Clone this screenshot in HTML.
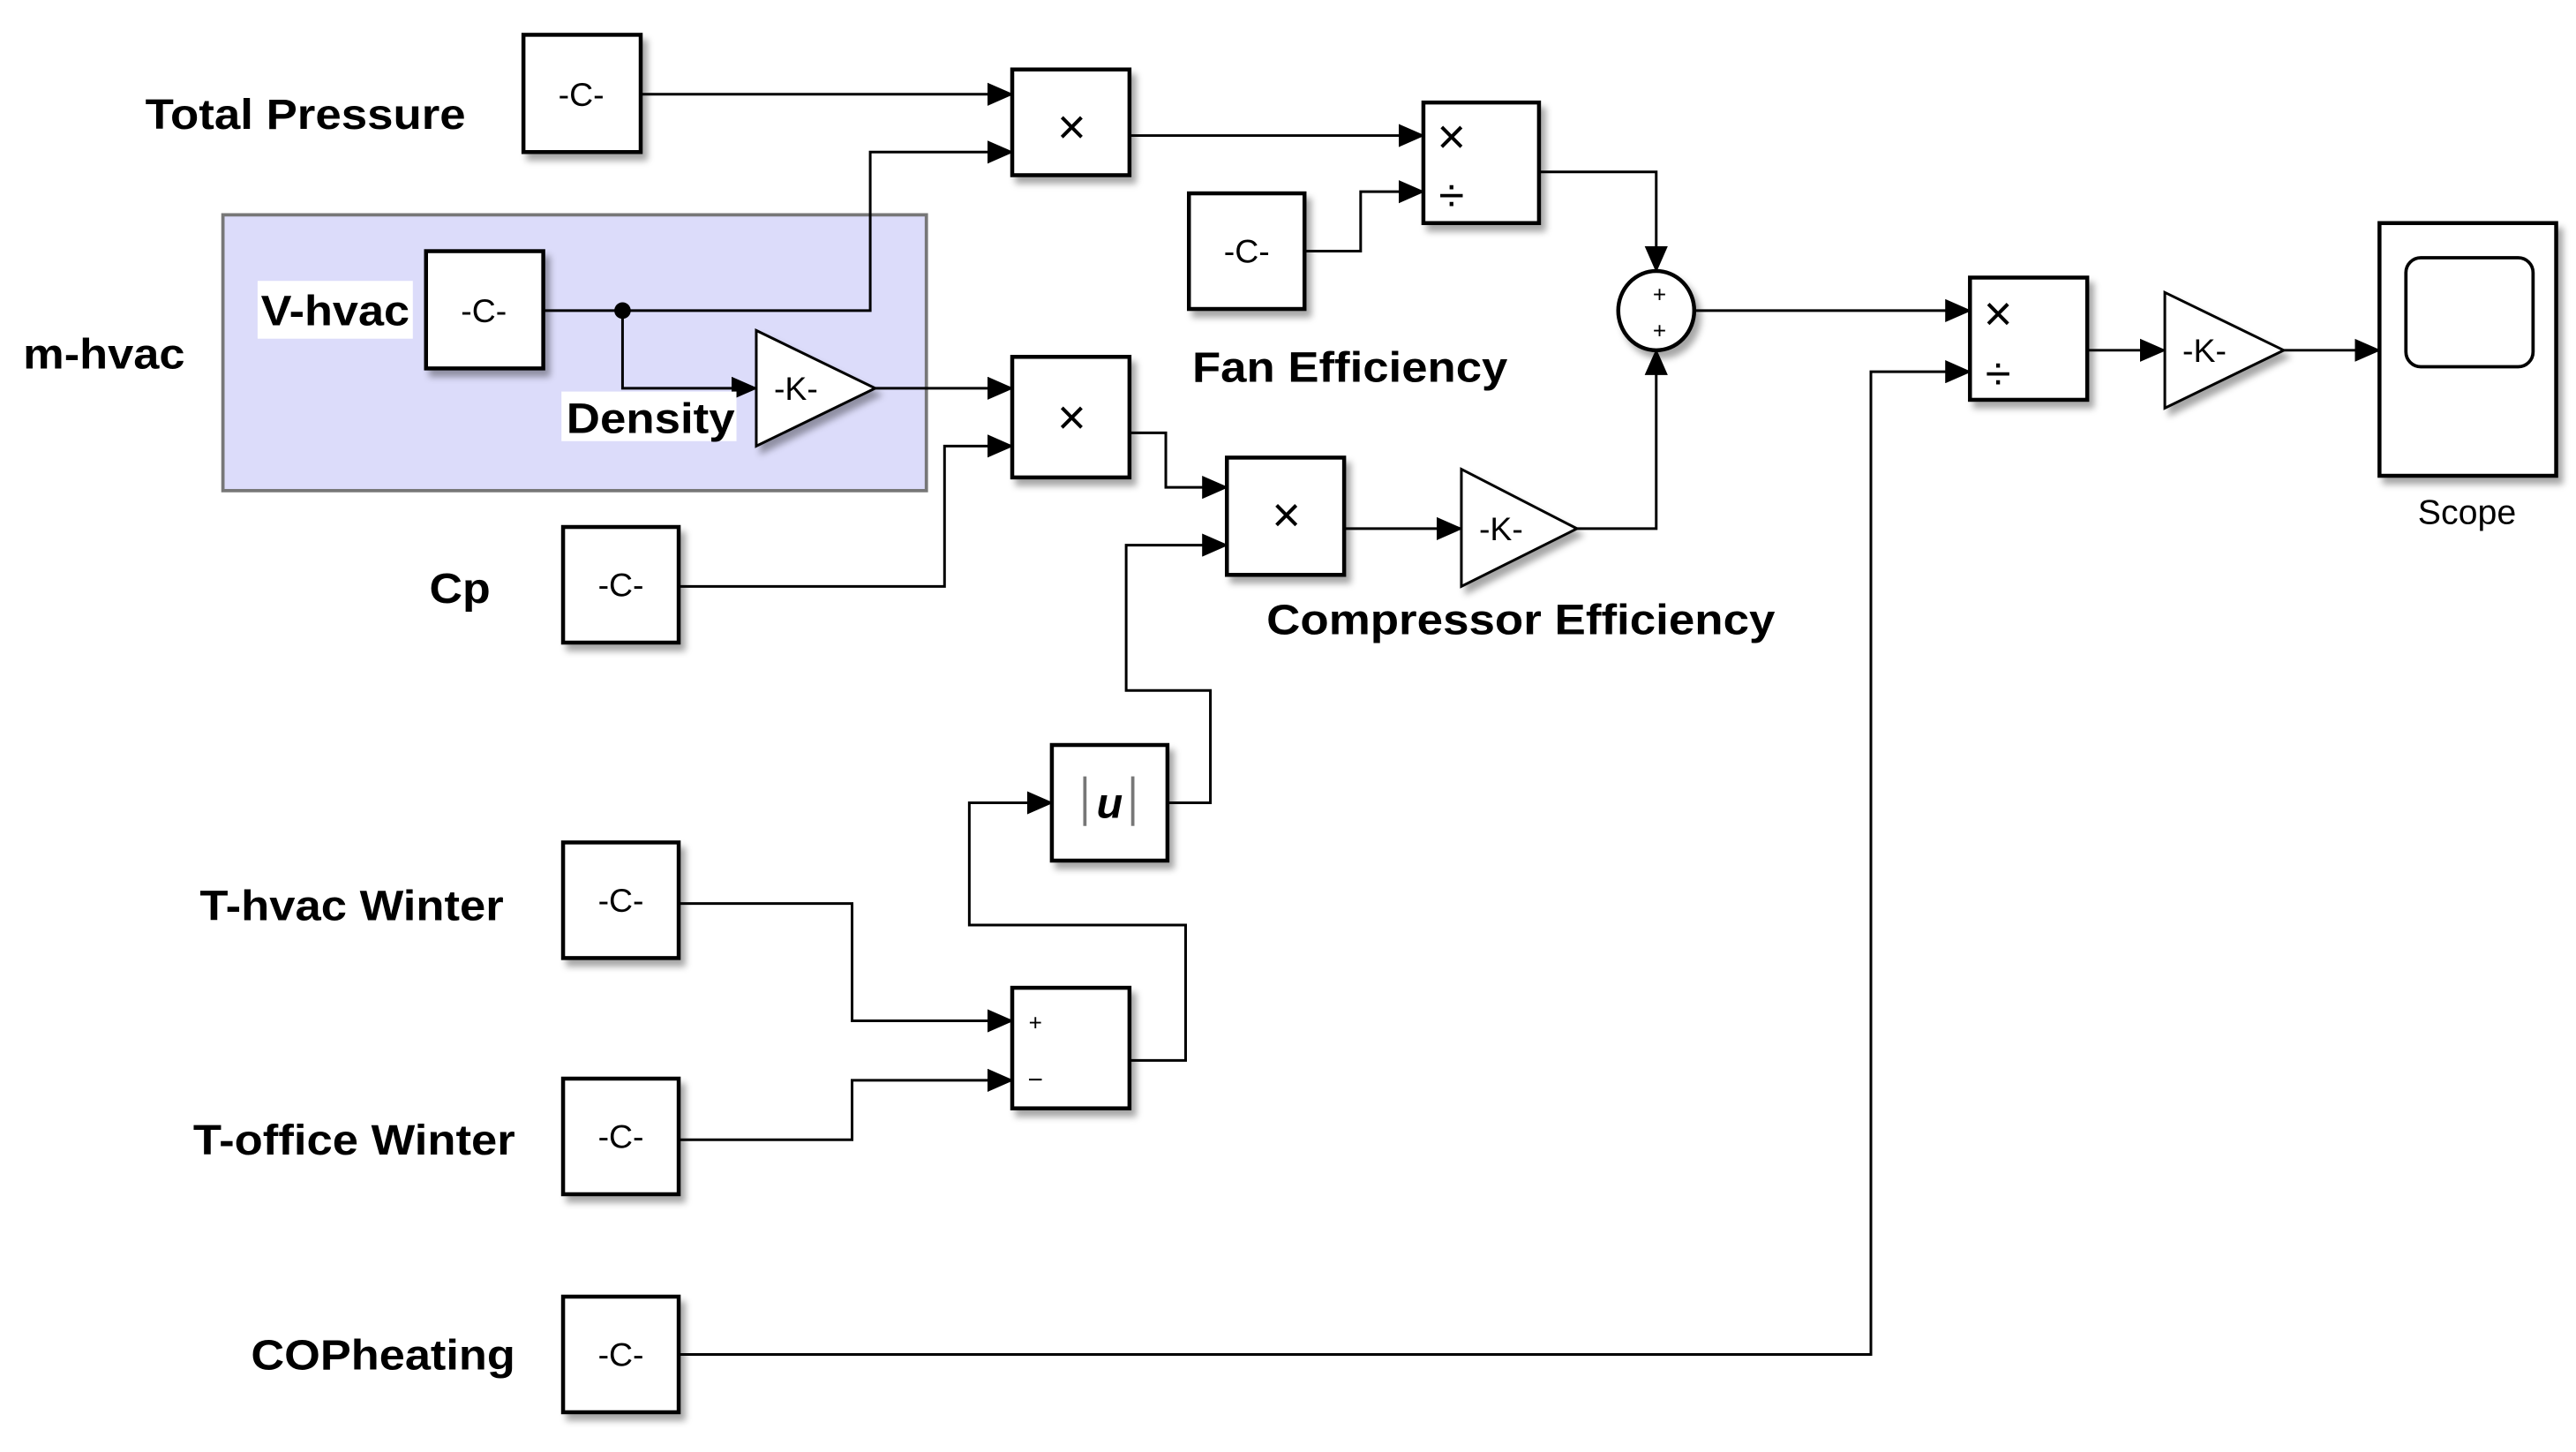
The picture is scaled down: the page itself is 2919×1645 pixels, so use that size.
<!DOCTYPE html>
<html><head><meta charset="utf-8"><style>
html,body{margin:0;padding:0;background:#fff;}
svg{display:block;}
text{font-family:"Liberation Sans",Arial,sans-serif;}
.lb{font-weight:bold;font-size:26px;fill:#000;}
.bt{font-size:20px;fill:#000;}
</style></head><body>
<svg width="2919" height="1645" viewBox="0 0 1560 879" xmlns="http://www.w3.org/2000/svg">
<defs>
<filter id="sh" x="-20%" y="-20%" width="150%" height="150%">
<feDropShadow dx="3" dy="4" stdDeviation="2" flood-color="#000" flood-opacity="0.35"/>
</filter>
<marker id="ar" markerUnits="userSpaceOnUse" markerWidth="16" markerHeight="14" refX="15" refY="7" orient="auto">
<path d="M0,0 L16,7 L0,14 Z" fill="#000"/>
</marker>
</defs>

<rect x="135" y="130" width="426" height="167" fill="#dcdcfa" stroke="#777" stroke-width="2"/>

<g fill="none" stroke="#000" stroke-width="1.6">
<polyline points="388,57 613,57" marker-end="url(#ar)"/>
<polyline points="377,188 527,188 527,92 613,92" marker-end="url(#ar)"/>
<polyline points="329,188 377,188"/>
<polyline points="377,188 377,235 458,235" marker-end="url(#ar)"/>
<polyline points="530,235 613,235" marker-end="url(#ar)"/>
<polyline points="411,355 572,355 572,270 613,270" marker-end="url(#ar)"/>
<polyline points="684,82 862,82" marker-end="url(#ar)"/>
<polyline points="790,152 824,152 824,116 862,116" marker-end="url(#ar)"/>
<polyline points="932,104 1003,104 1003,164" marker-end="url(#ar)"/>
<polyline points="684,262 706,262 706,295 743,295" marker-end="url(#ar)"/>
<polyline points="814,320 885,320" marker-end="url(#ar)"/>
<polyline points="955,320 1003,320 1003,212" marker-end="url(#ar)"/>
<polyline points="707,486 733,486 733,418 682,418 682,330 743,330" marker-end="url(#ar)"/>
<polyline points="684,642 718,642 718,560 587,560 587,486 637,486" marker-end="url(#ar)"/>
<polyline points="411,547 516,547 516,618 613,618" marker-end="url(#ar)"/>
<polyline points="411,690 516,690 516,654 613,654" marker-end="url(#ar)"/>
<polyline points="411,820 1133,820 1133,225 1193,225" marker-end="url(#ar)"/>
<polyline points="1027,188 1193,188" marker-end="url(#ar)"/>
<polyline points="1264,212 1311,212" marker-end="url(#ar)"/>
<polyline points="1383,212 1441,212" marker-end="url(#ar)"/>
</g>
<circle cx="377" cy="188" r="5" fill="#000"/>

<g fill="#fff" stroke="#000" stroke-width="2.4" filter="url(#sh)">
<rect x="317" y="21" width="71" height="71"/>
<rect x="258" y="152" width="71" height="71"/>
<rect x="341" y="319" width="70" height="70"/>
<rect x="341" y="510" width="70" height="70"/>
<rect x="341" y="653" width="70" height="70"/>
<rect x="341" y="785" width="70" height="70"/>
<rect x="720" y="117" width="70" height="70"/>
<rect x="613" y="42" width="71" height="64"/>
<rect x="613" y="216" width="71" height="73"/>
<rect x="743" y="277" width="71" height="71"/>
<rect x="862" y="62" width="70" height="73"/>
<rect x="1193" y="168" width="71" height="74"/>
<rect x="637" y="451" width="70" height="70"/>
<rect x="613" y="598" width="71" height="73"/>
<rect x="1441" y="135" width="107" height="153"/>
<polygon points="458,200 530,235 458,270" stroke-width="1.6"/>
<polygon points="885,284 955,320 885,355" stroke-width="1.6"/>
<polygon points="1311,177 1383,212 1311,247" stroke-width="1.6"/>
<ellipse cx="1003" cy="188" rx="23" ry="24"/>
</g>
<rect x="1457" y="156" width="77" height="66" rx="9" fill="#fff" stroke="#000" stroke-width="2"/>

<g class="bt" text-anchor="middle">
<text x="352" y="64">-C-</text>
<text x="293" y="195">-C-</text>
<text x="376" y="361">-C-</text>
<text x="376" y="552">-C-</text>
<text x="376" y="695">-C-</text>
<text x="376" y="827">-C-</text>
<text x="755" y="159">-C-</text>
<text x="482" y="242">-K-</text>
<text x="909" y="327">-K-</text>
<text x="1335" y="219">-K-</text>
<text x="649" y="87" font-size="30">×</text>
<text x="649" y="263" font-size="30">×</text>
<text x="779" y="322" font-size="30">×</text>
<text x="879" y="93" font-size="30">×</text>
<text x="879" y="128" font-size="28">÷</text>
<text x="1210" y="200" font-size="30">×</text>
<text x="1210" y="236" font-size="28">÷</text>
<text x="1005" y="183" font-size="14">+</text>
<text x="1005" y="205" font-size="14">+</text>
<text x="627" y="624" font-size="14">+</text>
<text x="627" y="659" font-size="16">−</text>
<text x="672" y="495" font-family="Liberation Serif" font-size="26" font-style="italic" font-weight="bold">u</text>
</g>
<g stroke="#777" stroke-width="2">
<line x1="657" y1="470" x2="657" y2="500"/>
<line x1="686" y1="470" x2="686" y2="500"/>
</g>

<rect x="156" y="170" width="94" height="35" fill="#fff"/>
<rect x="340" y="237" width="106" height="30" fill="#fff"/>
<g class="lb">
<text x="88" y="78" textLength="194" lengthAdjust="spacingAndGlyphs">Total Pressure</text>
<text x="14" y="223" textLength="98" lengthAdjust="spacingAndGlyphs">m-hvac</text>
<text x="158" y="197" textLength="90" lengthAdjust="spacingAndGlyphs">V-hvac</text>
<text x="343" y="262" textLength="102" lengthAdjust="spacingAndGlyphs">Density</text>
<text x="260" y="365" textLength="37" lengthAdjust="spacingAndGlyphs">Cp</text>
<text x="722" y="231" textLength="191" lengthAdjust="spacingAndGlyphs">Fan Efficiency</text>
<text x="767" y="384" textLength="308" lengthAdjust="spacingAndGlyphs">Compressor Efficiency</text>
<text x="121" y="557" textLength="184" lengthAdjust="spacingAndGlyphs">T-hvac Winter</text>
<text x="117" y="699" textLength="195" lengthAdjust="spacingAndGlyphs">T-office Winter</text>
<text x="152" y="829" textLength="160" lengthAdjust="spacingAndGlyphs">COPheating</text>
</g>
<text x="1494" y="317" text-anchor="middle" font-size="21" fill="#000">Scope</text>
</svg>
</body></html>
